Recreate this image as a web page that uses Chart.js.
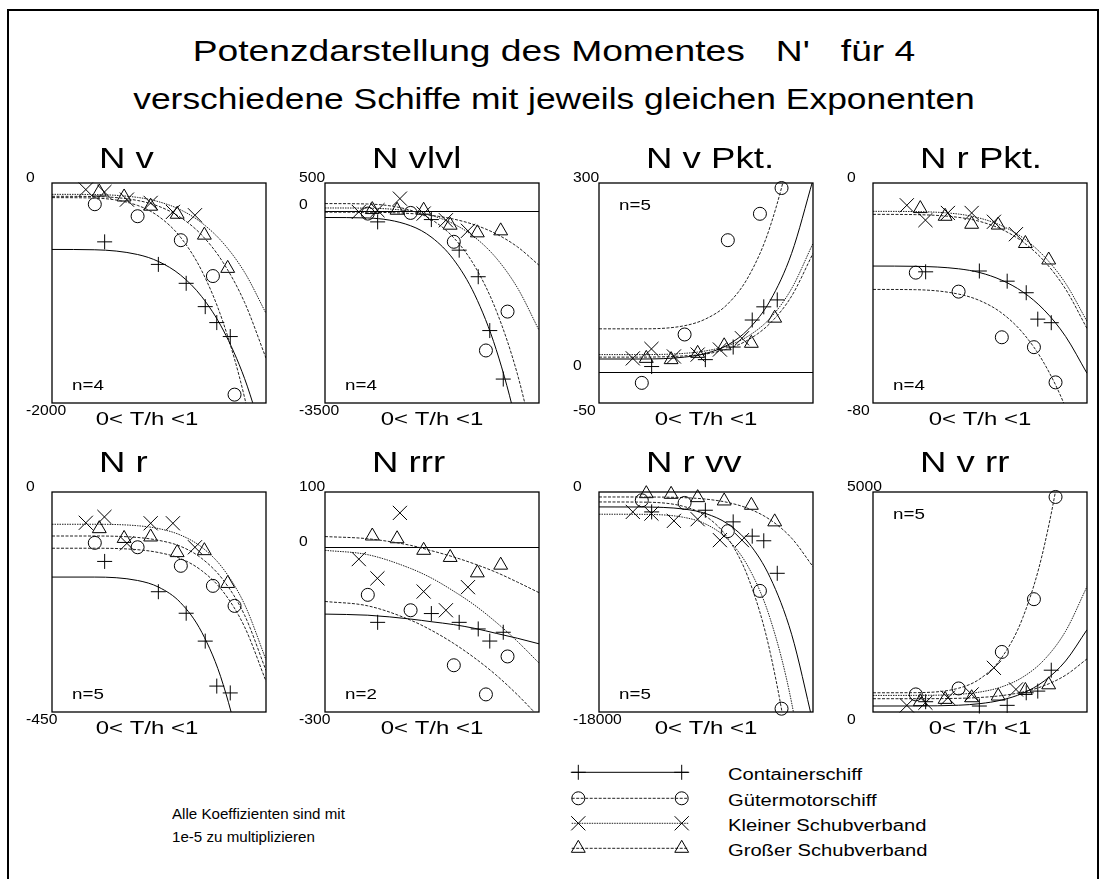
<!DOCTYPE html>
<html lang="de">
<head>
  <meta charset="UTF-8" />
  <title>Potenzdarstellung des Momentes N'</title>
  <script src="https://cdn.jsdelivr.net/npm/chart.js"></script>
  <style>
    html, body { margin: 0; padding: 0; background: #fff; overflow: hidden; }
    body { width: 1106px; height: 879px; position: relative; font-family: "Liberation Sans", Arial, sans-serif; color: #000; }
    .frame { position: absolute; left: 7px; top: 9px; width: 1088px; height: 900px; border: 2px solid #000; }
    .title { position: absolute; left: 0; width: 1108px; text-align: center; font-size: 30px; line-height: 30px; white-space: pre; }
    .txt { position: absolute; white-space: nowrap; transform-origin: 0 0; }
    canvas { position: absolute; }
  </style>
</head>
<body>
  <div class="frame"></div>
  <div class="title" style="top:36px; transform:scaleX(1.24)">Potenzdarstellung des Momentes   N'   für 4</div>
  <div class="title" style="top:84px; transform:scaleX(1.18)">verschiedene Schiffe mit jeweils gleichen Exponenten</div>

  <div class="txt" style="left:172px; top:807px; font-size:14px; line-height:14px; transform:scaleX(1.08)">Alle Koeffizienten sind mit</div>
  <div class="txt" style="left:172px; top:830px; font-size:14px; line-height:14px; transform:scaleX(1.08)">1e-5 zu multiplizieren</div>

  <canvas id="legende" width="140" height="110" style="left:560px; top:755px"></canvas>

  <script>
    // Serien
    const seriesNames = ['Containerschiff', 'Gütermotorschiff', 'Kleiner Schubverband', 'Großer Schubverband'];

    // T/h der Messpunkte (0..1) je Schiff
    const containerX = [0.246, 0.497, 0.627, 0.716, 0.770, 0.833];
    const guterX = [0.200, 0.400, 0.602, 0.752, 0.853];
    const kleinerX = [0.158, 0.245, 0.350, 0.461, 0.565, 0.668];
    const grosserX = [0.221, 0.337, 0.461, 0.585, 0.712, 0.821];
    const markerX = [containerX, guterX, kleinerX, grosserX];

    // Stützstellen der Ausgleichskurven
    const curveX = [0, 0.2, 0.4, 0.5, 0.6, 0.7, 0.8, 0.9, 1.0];

    const panelTitles = ['N v', 'N vlvl', 'N v Pkt.', 'N r Pkt.', 'N r', 'N rrr', 'N r vv', 'N v rr'];
    const exponents = [4, 4, 5, 4, 5, 2, 5, 5];
    const yTop = [0, 500, 300, 0, 0, 100, 0, 5000];
    const yBottom = [-2000, -3500, -50, -80, -450, -300, -18000, 0];

    // Messpunkte (y) je Diagramm: Container, Güter, Kleiner, Großer
    const nvY = [[-535, -740, -912, -1124, -1269, -1396], [-193, -302, -520, -846, -1924],
                 [-60, -82, -151, -181, -263, -293], [-82, -127, -211, -284, -474, -776]];
    const nvlvlY = [[-207, -165, -721, -1204, -2183, -3065], [-56, -44, -569, -2545, -1838],
                    [-26, 5, 216, -56, -177, -370], [17, 5, 5, -267, -406, -370]];
    const nvPktY = [[8, 19, 39, 82, 103, 114], [-18, 59, 209, 251, 292],
                    [21, 36, 24, 27, 35, 53], [21, 19, 29, 41, 45, 85]];
    const nrPktY = [[-32.3, -32.0, -35.7, -39.9, -49.5, -50.8], [-32.6, -39.5, -56.1, -59.7, -72.5],
                    [-8.1, -13.5, -10.9, -10.9, -14.1, -18.6], [-9.3, -12.1, -15.0, -15.3, -22.0, -28.0]];
    const nrY = [[-142, -204, -248, -305, -397, -411], [-104, -113, -151, -192, -233],
                 [-63, -51, -105, -64, -64, -113], [-75, -95, -92, -124, -120, -187]];
    const nrrrY = [[-137, -121, -137, -149, -171, -155], [-87, -115, -215, -268, -199],
                   [-22, -57, 62, -81, -115, -73], [20, 15, -6, -19, -47, -33]];
    const nrvvY = [[-1629, -1493, -2444, -3611, -3991, -6652], [-679, -896, -3204, -8091, -17729],
                   [-1629, -1765, -2362, -2226, -3937, -3937], [-136, -190, -462, -733, -1086, -2444]];
    const nvrrY = [[234, 136, 151, 437, 475, 950], [400, 535, 1365, 2564, 4887],
                   [151, 211, 324, 400, 1003, 513], [234, 287, 324, 362, 490, 618]];

    const nvFit = [[-604, -607, -650, -716, -836, -1034, -1337, -1778, -2394],
                   [-133, -137, -204, -306, -492, -799, -1269, -1952, -2906],
                   [-103, -105, -131, -171, -243, -363, -546, -812, -1184],
                   [-121, -123, -159, -213, -312, -474, -724, -1086, -1592]];
    const nvlvlFit = [[-127, -136, -277, -493, -887, -1534, -2528, -3972, -5988],
                      [126, 118, 4, -171, -489, -1013, -1818, -2988, -4620],
                      [46, 42, -11, -93, -242, -487, -864, -1411, -2175],
                      [-30, -32, -55, -90, -155, -262, -425, -663, -995]];
    const nvPktFit = [[20, 20, 23, 29, 42, 68, 113, 188, 305],
                      [68, 68, 73, 84, 107, 152, 231, 362, 566],
                      [27, 27, 29, 33, 41, 57, 85, 132, 204],
                      [23, 23, 25, 28, 36, 51, 77, 120, 188]];
    const nrPktFit = [[-30.2, -30.3, -31.2, -32.6, -35.3, -39.6, -46.2, -55.8, -69.2],
                      [-38.7, -38.8, -40.4, -42.8, -47.2, -54.5, -65.6, -81.7, -104.3],
                      [-10.3, -10.4, -11.3, -12.8, -15.5, -19.9, -26.7, -36.5, -50.3],
                      [-11.4, -11.5, -12.5, -14.0, -16.8, -21.4, -28.4, -38.6, -52.9]];
    const nrFit = [[-174, -174, -181, -195, -226, -287, -394, -571, -846],
                   [-115, -115, -118, -124, -136, -161, -204, -276, -387],
                   [-66, -66, -69, -75, -88, -113, -157, -230, -343],
                   [-90, -90, -93, -99, -111, -136, -180, -252, -365]];
    const nrrrFit = [[-122, -124, -131, -136, -141, -148, -157, -166, -176],
                     [-99, -107, -133, -152, -175, -202, -233, -269, -309],
                     [-6, -14, -39, -57, -80, -106, -137, -172, -211],
                     [19, 15, 3, -7, -18, -31, -46, -64, -83]];
    const nrvvFit = [[-1222, -1228, -1403, -1773, -2594, -4187, -7002, -11638, -18862],
                     [-815, -827, -1200, -1990, -3739, -7134, -13136, -23018, -38415],
                     [-1819, -1827, -2086, -2635, -3849, -6206, -10371, -17231, -27919],
                     [-407, -409, -465, -585, -850, -1365, -2275, -3774, -6109]];
    const nvrrFit = [[136, 137, 154, 190, 271, 427, 704, 1160, 1870],
                     [437, 440, 541, 755, 1227, 2145, 3766, 6436, 10597],
                     [377, 378, 402, 454, 569, 793, 1187, 1837, 2850],
                     [302, 302, 311, 330, 372, 454, 599, 836, 1207]];

    const markerYs = [nvY, nvlvlY, nvPktY, nrPktY, nrY, nrrrY, nrvvY, nvrrY];
    const fitCurves = [nvFit, nvlvlFit, nvPktFit, nrPktFit, nrFit, nrrrFit, nrvvFit, nvrrFit];

    // Aussehen
    const FONT = '"Liberation Sans", Arial, sans-serif';
    const seriesMarks = ['cross', 'circle', 'crossRot', 'triangle'];
    const markRadius = [7.5, 6.5, 10, 8];
    const seriesDash = [[], [3, 1.5], [1.5, 1], [3, 1.5]];
    const seriesColor = ['#000', '#222', '#222', '#222'];
    const nLabelTop = [false, false, true, false, false, false, false, true];

    const colLeft = [52, 325, 599, 873];
    const rowTop = [183, 492];
    const boxW = 219, boxH = 220;
    const PAD = { left: 32, top: 45, right: 6, bottom: 32 };

    function stretchText(ctx, text, x, y, size, sx, align, base) {
      ctx.save();
      ctx.font = size + 'px ' + FONT;
      ctx.fillStyle = '#000';
      ctx.textAlign = align;
      ctx.textBaseline = base;
      ctx.translate(x, y);
      ctx.scale(sx, 1);
      ctx.fillText(text, 0, 0);
      ctx.restore();
    }

    const panelPlugin = {
      id: 'panel',
      beforeDatasetsDraw(chart, args, opts) {
        const { ctx, chartArea: a, scales: { y } } = chart;
        const i = opts.index;
        if (yBottom[i] < 0 && yTop[i] > 0) {
          const y0 = Math.round(y.getPixelForValue(0)) + 0.5;
          ctx.save();
          ctx.strokeStyle = '#000';
          ctx.lineWidth = 1;
          ctx.beginPath();
          ctx.moveTo(a.left, y0);
          ctx.lineTo(a.right, y0);
          ctx.stroke();
          ctx.restore();
        }
      },
      afterDraw(chart, args, opts) {
        const { ctx, chartArea: a, scales: { y } } = chart;
        const i = opts.index;
        const col = i % 4, row = Math.floor(i / 4);

        ctx.save();
        ctx.strokeStyle = '#000';
        ctx.lineWidth = 1.3;
        ctx.strokeRect(a.left, a.top, a.right - a.left, a.bottom - a.top);
        ctx.restore();

        // Achsbeschriftung links
        const lx = a.left - 26;
        stretchText(ctx, String(yTop[i]), lx, y.getPixelForValue(yTop[i]) - 5, 14, 1.12, 'left', 'middle');
        stretchText(ctx, String(yBottom[i]), lx, y.getPixelForValue(yBottom[i]) + 8, 14, 1.12, 'left', 'middle');
        if (yBottom[i] < 0 && yTop[i] > 0) {
          stretchText(ctx, '0', lx, y.getPixelForValue(0) - 5, 14, 1.12, 'left', 'middle');
        }

        // Titel
        stretchText(ctx, panelTitles[i], a.left + 47, a.top - (row === 0 ? 15 : 20), 30, 1.22, 'left', 'alphabetic');

        // x-Beschriftung
        const cx = (a.left + a.right) / 2 - (col === 0 ? 12 : 0);
        stretchText(ctx, '0< T/h <1', cx, a.bottom + 17, 19, 1.26, 'center', 'middle');

        // Exponent
        const ny = nLabelTop[i] ? a.top + 27 : a.bottom - 13;
        stretchText(ctx, 'n=' + exponents[i], a.left + 20, ny, 15, 1.25, 'left', 'alphabetic');
      }
    };

    panelTitles.forEach((title, i) => {
      const col = i % 4, row = Math.floor(i / 4);
      const cv = document.createElement('canvas');
      cv.width = boxW + PAD.left + PAD.right;
      cv.height = boxH + PAD.top + PAD.bottom;
      cv.style.left = (colLeft[col] - PAD.left) + 'px';
      cv.style.top = (rowTop[row] - PAD.top) + 'px';
      document.body.appendChild(cv);

      const datasets = [];
      seriesNames.forEach((name, s) => {
        datasets.push({
          label: name + ' (Kurve)',
          data: curveX.map((x, k) => ({ x: x, y: fitCurves[i][s][k] })),
          showLine: true,
          pointRadius: 0,
          borderColor: seriesColor[s],
          borderWidth: 1,
          borderDash: seriesDash[s],
          cubicInterpolationMode: 'monotone',
          fill: false
        });
        datasets.push({
          label: name,
          data: markerX[s].map((x, k) => ({ x: x, y: markerYs[i][s][k] })),
          showLine: false,
          pointStyle: seriesMarks[s],
          pointRadius: markRadius[s],
          pointBorderColor: '#000',
          pointBackgroundColor: 'rgba(0,0,0,0)',
          pointBorderWidth: 1,
          clip: false
        });
      });

      new Chart(cv, {
        type: 'scatter',
        data: { datasets: datasets },
        options: {
          responsive: false,
          animation: false,
          events: [],
          layout: { padding: PAD },
          plugins: {
            legend: { display: false },
            tooltip: { enabled: false },
            panel: { index: i }
          },
          scales: {
            x: { type: 'linear', min: 0, max: 1, display: false },
            y: { type: 'linear', min: yBottom[i], max: yTop[i], display: false }
          }
        },
        plugins: [panelPlugin]
      });
    });

    // Legende
    const lctx = document.getElementById('legende').getContext('2d');
    const legendRowY = [17.3, 43.3, 68.3, 93.3];

    function drawMark(ctx, style, x, y, r) {
      ctx.beginPath();
      if (style === 'cross') {
        ctx.moveTo(x - r, y); ctx.lineTo(x + r, y);
        ctx.moveTo(x, y - r); ctx.lineTo(x, y + r);
      } else if (style === 'crossRot') {
        const d = r * Math.SQRT1_2;
        ctx.moveTo(x - d, y - d); ctx.lineTo(x + d, y + d);
        ctx.moveTo(x + d, y - d); ctx.lineTo(x - d, y + d);
      } else if (style === 'circle') {
        ctx.arc(x, y, r, 0, Math.PI * 2);
      } else if (style === 'triangle') {
        for (let k = 0; k < 3; k++) {
          const ang = k * 2 * Math.PI / 3;
          const px = x + Math.sin(ang) * r, py = y - Math.cos(ang) * r;
          if (k === 0) ctx.moveTo(px, py); else ctx.lineTo(px, py);
        }
        ctx.closePath();
      }
      ctx.stroke();
    }

    seriesNames.forEach((name, s) => {
      const yy = legendRowY[s];
      lctx.save();
      lctx.strokeStyle = seriesColor[s];
      lctx.lineWidth = 1;
      lctx.setLineDash(seriesDash[s]);
      lctx.beginPath();
      lctx.moveTo(11.7, yy);
      lctx.lineTo(128.3, yy);
      lctx.stroke();
      lctx.setLineDash([]);
      lctx.strokeStyle = '#000';
      drawMark(lctx, seriesMarks[s], 18.3, yy, markRadius[s]);
      drawMark(lctx, seriesMarks[s], 121.7, yy, markRadius[s]);
      lctx.restore();

      const t = document.createElement('div');
      t.className = 'txt';
      t.textContent = name;
      t.style.left = '728px';
      t.style.top = (755 + yy - 5.5) + 'px';
      t.style.fontSize = '16px';
      t.style.lineHeight = '16px';
      t.style.transform = 'scaleX(1.26)';
      document.body.appendChild(t);
    });
  </script>
</body>
</html>
